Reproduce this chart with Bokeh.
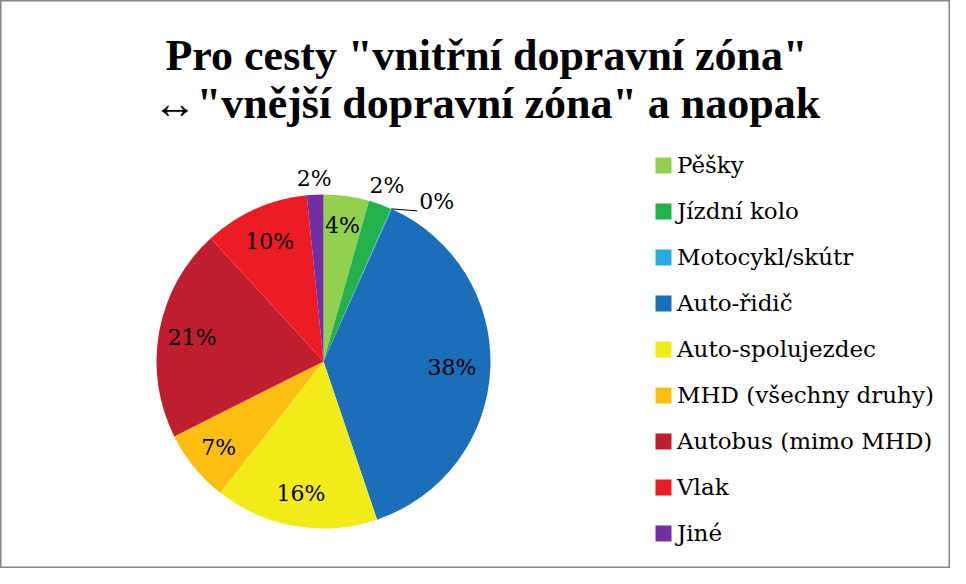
import numpy as np
from bokeh.plotting import figure
from bokeh.models import ColumnDataSource, Range1d, Legend, LegendItem, Label
from bokeh.core.properties import value
from bokeh.embed import file_html
from bokeh.resources import INLINE

# ---- data ----
categories = ["Pěšky", "Jízdní kolo", "Motocykl/skútr", "Auto-řidič", "Auto-spolujezdec",
              "MHD (všechny druhy)", "Autobus (mimo MHD)", "Vlak", "Jiné"]
shares = [4.4, 2.2, 0.1, 38.1, 15.8, 7.0, 20.6, 10.2, 1.6]
colors = ["#92D050", "#22B14C", "#29ABE2", "#1B6FB8", "#F2EA19",
          "#FDBE14", "#BE1E2D", "#ED1C24", "#7030A0"]
title_lines = ['Pro cesty "vnitřní dopravní zóna"', '↔"vnější dopravní zóna" a naopak']

# ---- layout constants ----
W, H = 950, 568
CX, CY = 323, 207          # pie centre in px (from left, from bottom)
R = 167                    # pie radius in px
label_factor = [0.82, 1.12, None, 0.77, 0.80, 0.81, 0.80, 0.79, 1.10]
FONT = "DejaVu Serif"

frac = np.array(shares) / sum(shares)
cum_end = np.cumsum(frac)
cum_start = cum_end - frac
start_angle = np.pi / 2 - 2 * np.pi * cum_end
end_angle = np.pi / 2 - 2 * np.pi * cum_start
mid = 2 * np.pi * (cum_start + cum_end) / 2
pct = [f"{round(s)}%" for s in shares]

src = ColumnDataSource(dict(cat=categories, start=start_angle, end=end_angle, color=colors))

p = figure(width=W, height=H, output_backend="svg", toolbar_location=None,
           x_axis_location=None, y_axis_location=None, min_border=0,
           x_range=Range1d(-CX, W - CX), y_range=Range1d(-CY, H - CY))
p.grid.visible = False
p.outline_line_color = "#868686"
p.outline_line_width = 2
p.background_fill_color = "white"
p.border_fill_color = "white"

wr = p.wedge(x=0, y=0, radius=R, start_angle="start", end_angle="end",
             fill_color="color", line_color=None, source=src)

# percentage labels
lx, ly, lt = [], [], []
for i, f in enumerate(label_factor):
    if f is None:
        continue
    lx.append(R * f * np.sin(mid[i]))
    ly.append(R * f * np.cos(mid[i]))
    lt.append(pct[i])
p.text(x=lx, y=ly, text=lt, text_align="center", text_baseline="middle",
       text_font=value(FONT), text_font_size="22px", text_color="black")

# leader-line label for the tiny slice
for i, f in enumerate(label_factor):
    if f is not None:
        continue
    ex, ey = R * np.sin(mid[i]), R * np.cos(mid[i])
    p.line(x=[ex, ex + 26], y=[ey, ey - 2], line_color="black", line_width=1)
    p.text(x=[ex + 28], y=[ey + 7], text=[pct[i]], text_align="left", text_baseline="middle",
           text_font=value(FONT), text_font_size="22px", text_color="black")

# title
for t, yb in zip(title_lines, [H - 55, H - 103]):
    p.add_layout(Label(x=486, y=yb, x_units="screen", y_units="screen", text=t,
                       text_align="center", text_baseline="alphabetic",
                       text_font="Liberation Serif", text_font_style="bold",
                       text_font_size="44px", text_color="black"))

items = [LegendItem(label=c, renderers=[wr], index=i) for i, c in enumerate(categories)]
legend = Legend(items=items, location=(653, 22), orientation="vertical",
                glyph_width=20, glyph_height=20, label_standoff=4, spacing=20,
                padding=0, margin=0, border_line_alpha=0, background_fill_alpha=0,
                label_text_font=FONT, label_text_font_size="23px", label_text_color="black")
p.add_layout(legend)

open("out.html", "w").write(file_html(p, INLINE))
